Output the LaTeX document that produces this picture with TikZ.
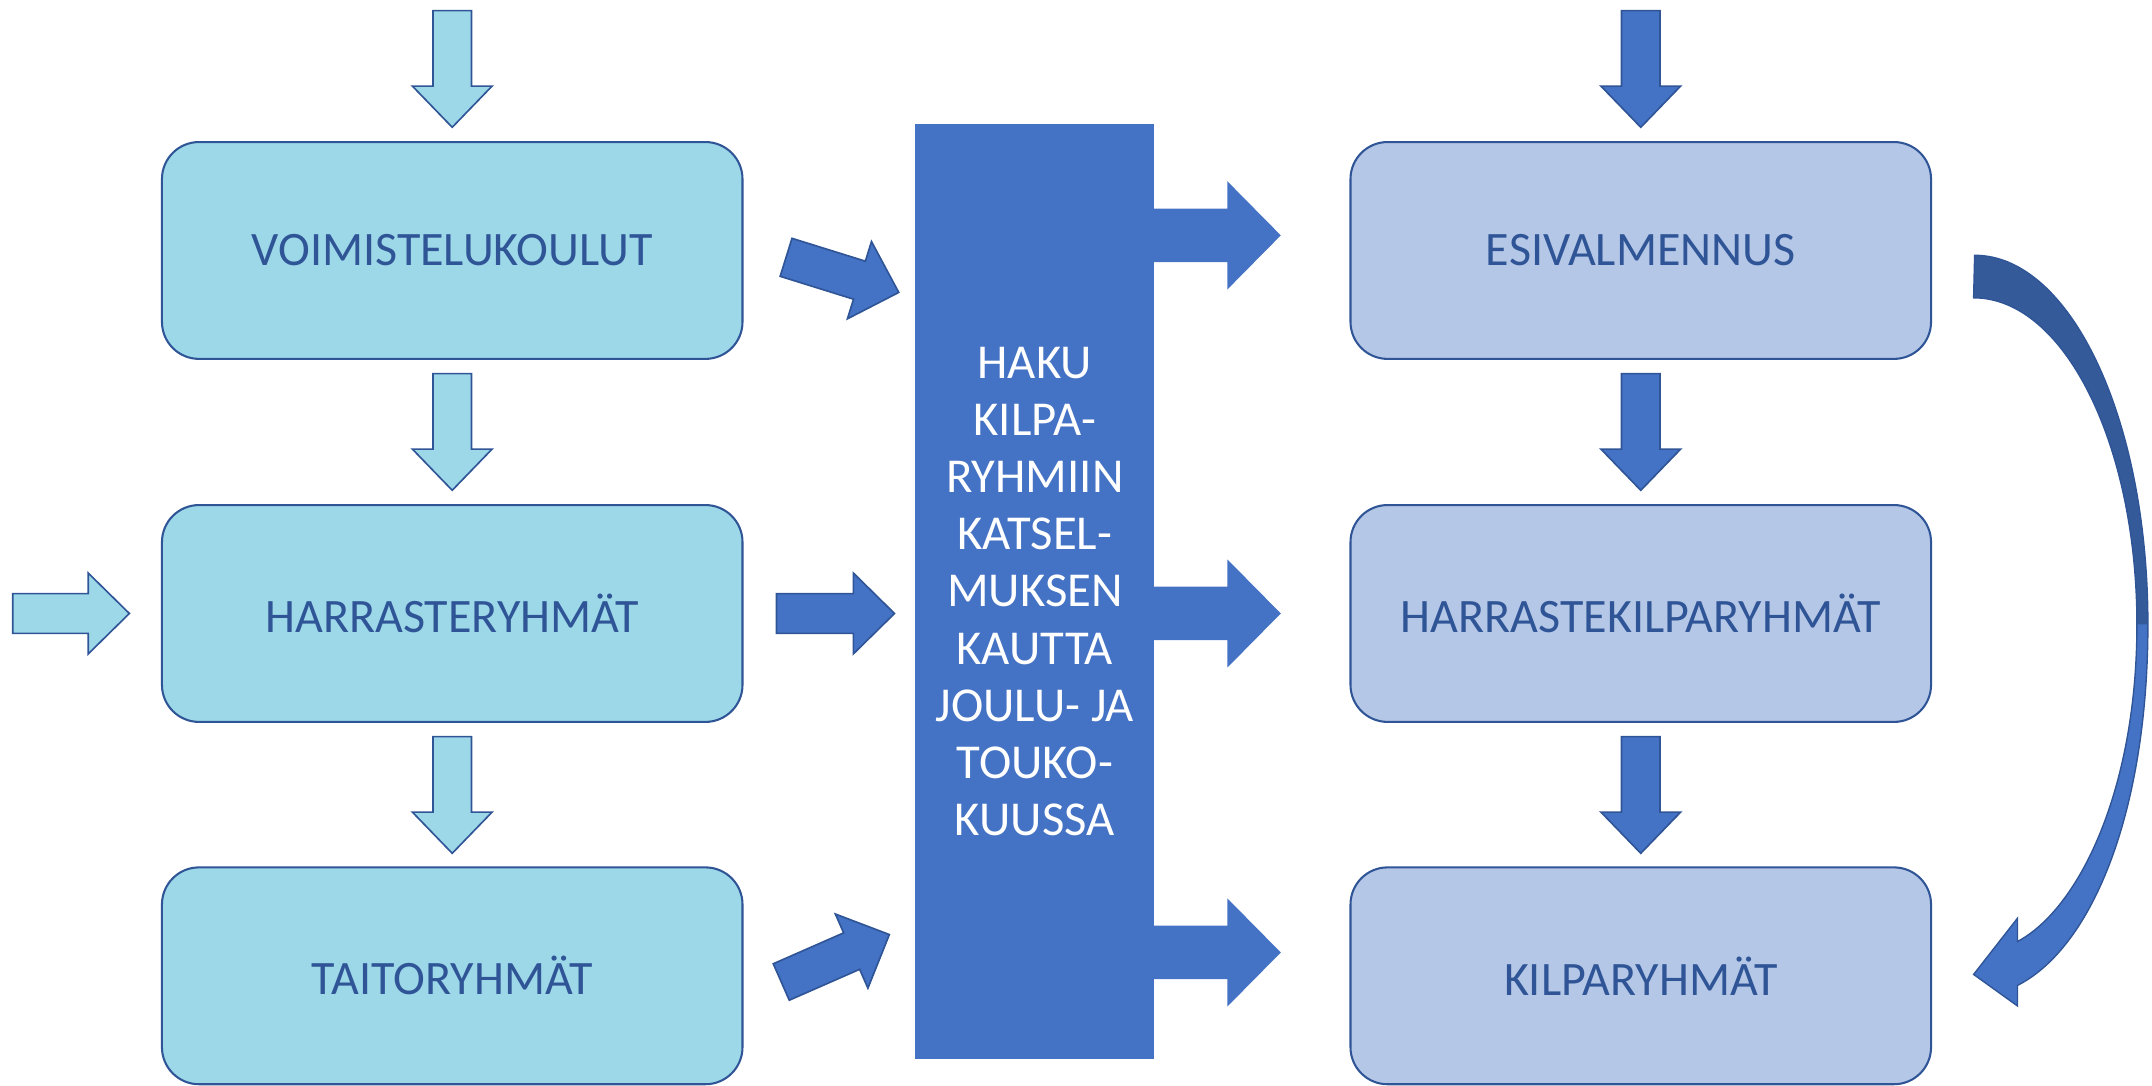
\documentclass[tikz,border=0pt]{standalone}
\usepackage{fontspec}
\setmainfont{Carlito}
\usetikzlibrary{calc}
\definecolor{lblue}{HTML}{9DD8E9}
\definecolor{rblue}{HTML}{B4C7E7}
\definecolor{mblue}{HTML}{4472C4}
\definecolor{dblue}{HTML}{2F5597}
\definecolor{cdark}{HTML}{345A9A}
\newcommand\blockarr[7]{%
  \begin{scope}[shift={#2}, rotate=-#3]
    \path[#1] (0,-#5) -- ({#4-#7},-#5) -- ({#4-#7},-#6) -- (#4,0) -- ({#4-#7},#6) -- ({#4-#7},#5) -- (0,#5) -- cycle;
  \end{scope}}
\tikzset{
  lbox/.style={draw=dblue, line width=1.5pt, fill=lblue, rounded corners=27pt,
    minimum width=423pt, minimum height=158pt, text=dblue, inner sep=0pt,
    font=\fontsize{35}{42}\selectfont},
  rbox/.style={lbox, fill=rblue},
  larrow/.style={draw=dblue, line width=1.2pt, fill=lblue},
  darrow/.style={draw=dblue, line width=1.2pt, fill=mblue},
  oarrow/.style={fill=mblue},
  hakubox/.style={fill=mblue, minimum width=174pt, minimum height=681pt, text=white,
    align=center, inner sep=0pt, font=\fontsize{35.5}{41.7}\selectfont},
}
\begin{document}
\begin{tikzpicture}[x=1pt,y=-1pt]
\useasboundingbox (0,0) rectangle (1568,791);
% left column
\node[lbox] (voim) at (329.5,182.5) {VOIMISTELUKOULUT};
\node[lbox] (harr) at (329.5,447) {HARRASTERYHMÄT};
\node[lbox] (taito) at (329.5,711) {TAITORYHMÄT};
% right column
\node[rbox] (esi) at (1195.5,182.5) {ESIVALMENNUS};
\node[rbox] (hkilp) at (1195.5,447) {HARRASTEKILPARYHMÄT};
\node[rbox] (kilp) at (1195.5,711) {KILPARYHMÄT};
% center
\node[hakubox] (haku) at (754,431) {HAKU\\KILPA-\\RYHMIIN\\KATSEL-\\MUKSEN\\KAUTTA\\JOULU- JA\\TOUKO-\\KUUSSA};
% light arrows left column
\blockarr{larrow}{($(voim.north)+(0,-95)$)}{90}{85}{14}{29}{30}
\blockarr{larrow}{($(voim.south)+(0,10)$)}{90}{85}{14}{29}{30}
\blockarr{larrow}{($(harr.south)+(0,10)$)}{90}{85}{14}{29}{30}
\blockarr{larrow}{($(harr.west)+(-108,0)$)}{0}{85}{14.5}{29.5}{30}
% dark arrows into center
\blockarr{darrow}{($(voim.east)+(31,5)$)}{17.3}{86}{14.5}{29.5}{30}
\blockarr{darrow}{($(harr.east)+(24,0)$)}{0}{86}{14.5}{29.5}{30}
\blockarr{darrow}{($(taito.east)+(27.5,4.5)$)}{-23.7}{86}{14.5}{29.5}{30}
% out of center
\blockarr{oarrow}{($(haku.east)+(-2,-259.5)$)}{0}{94}{19.5}{39.5}{39}
\blockarr{oarrow}{($(haku.east)+(-2,16)$)}{0}{94}{19.5}{39.5}{39}
\blockarr{oarrow}{($(haku.east)+(-2,263)$)}{0}{94}{19.5}{39.5}{39}
% right column arrows
\blockarr{darrow}{($(esi.north)+(0,-95)$)}{90}{85}{14}{29}{30}
\blockarr{darrow}{($(esi.south)+(0,10)$)}{90}{85}{14}{29}{30}
\blockarr{darrow}{($(hkilp.south)+(0,10)$)}{90}{85}{14}{29}{30}
% curved arrow from esi to kilp
\coordinate (cs) at ($(esi.east)+(31,3.5)$);
\fill[mblue] (1565,445) -- (1565,455) .. controls (1565,590) and (1525,690) .. (1470,718) -- (1470,733)
  -- (1438,710) -- (1470,669) -- (1470,686) .. controls (1515,662) and (1557,575) .. (1557,455) -- (1557,445) -- cycle;
\fill[cdark] (cs) .. controls (1508,186) and (1565,304) .. (1565,455) -- (1557,455)
  .. controls (1557,324) and (1504,217) .. (1438,217) -- cycle;
\draw[dblue, line width=1pt, line join=miter] (cs) .. controls (1508,186) and (1565,304) .. (1565,455)
  .. controls (1565,590) and (1525,690) .. (1470,718) -- (1470,733) -- (1438,710) -- (1470,669) -- (1470,686)
  .. controls (1515,662) and (1557,575) .. (1557,455) .. controls (1557,324) and (1504,217) .. (1438,217) -- cycle;
\end{tikzpicture}
\end{document}
